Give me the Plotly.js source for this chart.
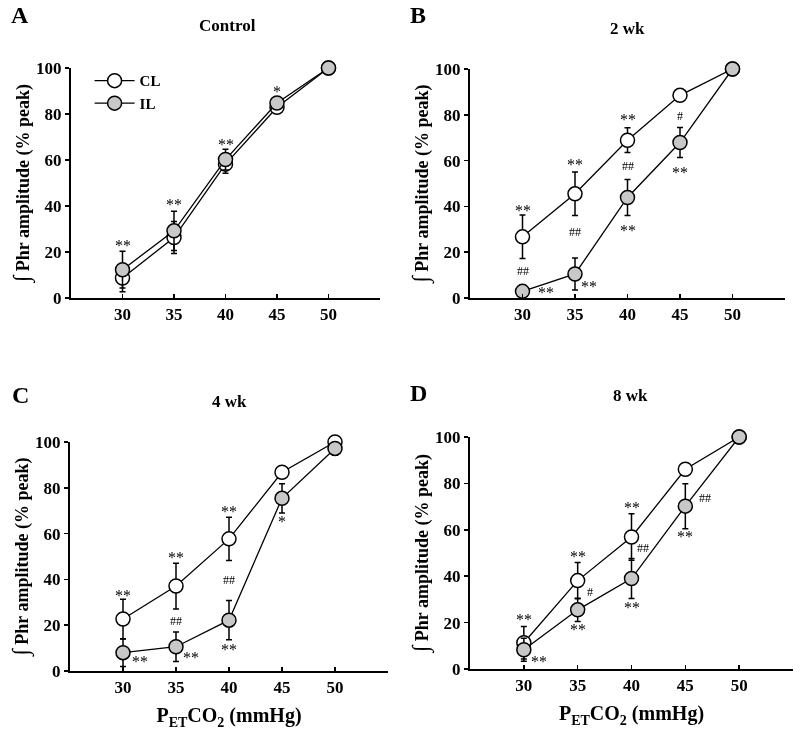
<!DOCTYPE html>
<html>
<head>
<meta charset="utf-8">
<script src="https://cdn.plot.ly/plotly-3.0.1.min.js"></script>
<style>
html,body{margin:0;padding:0;background:#fff;}
#chart{width:800px;height:740px;filter:grayscale(100%);}
</style>
</head>
<body>
<div id="chart"></div>
<script>
// ---- data ----
const petco2 = [30, 35, 40, 45, 50];

const controlCL    = [8.7, 26.3, 58.2, 82.9, 100];
const controlCLerr = [6, 7, 4, 2, 0];
const controlIL    = [12.3, 29.2, 60.2, 84.8, 100];
const controlILerr = [8, 8.5, 4.5, 1.5, 0];

const wk2CL    = [26.7, 45.5, 68.9, 88.5, 100];
const wk2CLerr = [9.5, 9.5, 5.4, 2.5, 0];
const wk2IL    = [2.9, 10.5, 43.9, 67.9, 100];
const wk2ILerr = [0, 7, 7.9, 6.5, 0];

const wk4CL    = [22.7, 37.1, 57.7, 86.8, 100];
const wk4CLerr = [8.6, 10, 9.4, 2, 0];
const wk4IL    = [8, 10.6, 22.2, 75.4, 97.2];
const wk4ILerr = [6, 6.4, 8.6, 6.4, 3];

const wk8CL    = [11.3, 38.1, 56.9, 86.1, 100];
const wk8CLerr = [7, 7.8, 10, 2, 0];
const wk8IL    = [8.3, 25.5, 39, 70.2, 100];
const wk8ILerr = [5, 5, 8.6, 9.7, 0];

const xTickVals = [30, 35, 40, 45, 50];
const yTickVals = [0, 20, 40, 60, 80, 100];
const panelLetters = ['A', 'B', 'C', 'D'];
const panelTitles = ['Control', '2 wk', '4 wk', '8 wk'];
const seriesNames = ['CL', 'IL'];

// significance labels per panel: [text, x, y]
const sigA = [['**',30,23],['**',35,40.8],['**',40,66.9],['*',45,89.7]];
const sigB = [['**',30,38.1],['##',30,11.6],['**',32.2,2.2],['**',35,58.4],['##',35,28.8],['**',36.3,5.1],
              ['**',40,78],['##',40,57.8],['**',40,29.5],['#',45,79.5],['**',45,54.8]];
const sigC = [['**',30,33.1],['**',31.6,4.1],['**',35,49.6],['##',35,21.9],['**',36.4,6],
              ['**',40,69.5],['##',40,39.7],['**',40,9.4],['*',45,65.4]];
const sigD = [['**',30,21.2],['**',31.4,3.3],['**',35,48.7],['#',36.1,33],['**',35,16.9],
              ['**',40,69.5],['##',41.1,52],['**',40,26.5],['##',46.8,73.9],['**',45,57]];

// ---- styling ----
const serif = 'Liberation Serif, Times New Roman, serif';
const panels = [
  {cl: controlCL, clE: controlCLerr, il: controlIL, ilE: controlILerr, sig: sigA},
  {cl: wk2CL, clE: wk2CLerr, il: wk2IL, ilE: wk2ILerr, sig: sigB},
  {cl: wk4CL, clE: wk4CLerr, il: wk4IL, ilE: wk4ILerr, sig: sigC},
  {cl: wk8CL, clE: wk8CLerr, il: wk8IL, ilE: wk8ILerr, sig: sigD}
];
const xDomains = [[71/800, 380/800], [470/800, 785/800], [70/800, 388/800], [470/800, 793/800]];
const yDomains = [[(740-298)/740, (740-68)/740], [(740-298)/740, (740-69)/740],
                  [(740-671)/740, (740-442)/740], [(740-669)/740, (740-437)/740]];

const traces = [];
const annotations = [];
const layout = {
  width: 800, height: 740,
  margin: {l: 0, r: 0, t: 0, b: 0},
  paper_bgcolor: '#fff', plot_bgcolor: '#fff',
  font: {family: serif, color: '#000'},
  showlegend: true,
  legend: {x: 0.112, y: 0.913, xanchor: 'left', yanchor: 'top',
           bgcolor: 'rgba(0,0,0,0)', font: {family: serif, size: 15, weight: 700},
           itemwidth: 40, tracegroupgap: 0},
  annotations: annotations
};

panels.forEach((p, i) => {
  const n = i + 1;
  const xa = 'x' + (n === 1 ? '' : n), ya = 'y' + (n === 1 ? '' : n);
  const common = {
    x: petco2, xaxis: xa, yaxis: ya, mode: 'lines+markers', cliponaxis: false,
    line: {color: '#000', width: 1.3},
    showlegend: i === 0
  };
  traces.push(Object.assign({}, common, {
    y: p.cl, name: seriesNames[0],
    error_y: {type: 'data', array: p.clE, visible: true, color: '#000', thickness: 1.5, width: 3},
    marker: {symbol: 'circle', size: 14, color: '#ffffff', line: {color: '#000', width: 1.5}}
  }));
  traces.push(Object.assign({}, common, {
    y: p.il, name: seriesNames[1],
    error_y: {type: 'data', array: p.ilE, visible: true, color: '#000', thickness: 1.5, width: 3},
    marker: {symbol: 'circle', size: 14, color: '#c8c8c8', line: {color: '#000', width: 1.5}}
  }));

  const xKey = 'xaxis' + (n === 1 ? '' : n), yKey = 'yaxis' + (n === 1 ? '' : n);
  const xAxis = {
    domain: xDomains[i], anchor: ya, range: [25, 55],
    tickvals: xTickVals, ticktext: xTickVals.map(String),
    showline: true, linewidth: 2, linecolor: '#000',
    ticks: 'inside', ticklen: 4, tickwidth: 1.5, tickcolor: '#000',
    showgrid: false, zeroline: false, fixedrange: true,
    tickfont: {family: serif, size: 17, weight: 700, color: '#000'}
  };
  if (i >= 2) {
    xAxis.title = {text: 'P<sub>ET</sub>CO<sub>2</sub> (mmHg)', standoff: 12,
                   font: {family: serif, size: 20, weight: 700, color: '#000'}};
  }
  layout[xKey] = xAxis;
  layout[yKey] = {
    domain: yDomains[i], anchor: xa, range: [0, 100],
    tickvals: yTickVals, ticktext: yTickVals.map(String),
    showline: true, linewidth: 2, linecolor: '#000',
    ticks: 'outside', ticklen: 4, tickwidth: 1.5, tickcolor: '#000',
    showgrid: false, zeroline: false, fixedrange: true,
    tickfont: {family: serif, size: 17, weight: 700, color: '#000'},
    title: {text: '<span style="font-size:23px">\u222B</span> Phr amplitude (% peak)', standoff: 2,
            font: {family: serif, size: 18, weight: 700, color: '#000'}}
  };

  // panel letters
  const letterPos = [[20, 15], [418, 15], [20, 395], [418, 393]];
  annotations.push({xref: 'paper', yref: 'paper', x: letterPos[i][0]/800, y: 1 - letterPos[i][1]/740,
    xanchor: 'center', yanchor: 'middle', showarrow: false, text: panelLetters[i],
    font: {family: serif, size: 24, weight: 700, color: '#000'}});
  // panel titles
  const titlePos = [[227, 26], [627, 28], [230, 401], [630, 395]];
  annotations.push({xref: 'paper', yref: 'paper', x: titlePos[i][0]/800, y: 1 - titlePos[i][1]/740,
    xanchor: 'center', yanchor: 'middle', showarrow: false, text: panelTitles[i],
    font: {family: serif, size: 17, weight: 700, color: '#000'}});
  // significance marks
  p.sig.forEach(s => {
    const isHash = s[0].indexOf('#') >= 0;
    annotations.push({xref: xa, yref: ya, x: s[1], y: s[2], xanchor: 'center', yanchor: 'middle',
      showarrow: false, text: s[0],
      font: {family: serif, size: isHash ? 12 : 16, color: '#000'}});
  });
});

Plotly.newPlot('chart', traces, layout, {staticPlot: true, displayModeBar: false});
</script>
</body>
</html>
